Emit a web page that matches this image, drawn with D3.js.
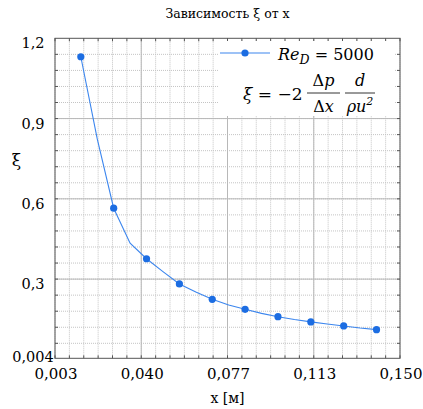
<!DOCTYPE html>
<html>
<head>
<meta charset="utf-8">
<script src="https://cdn.jsdelivr.net/npm/d3@7"></script>
<style>
  body { margin: 0; background: #fff; }
</style>
</head>
<body>
<div id="chart"></div>
<script>
// values
var xValues = [0.014, 0.021, 0.028, 0.035, 0.042, 0.049, 0.056, 0.063, 0.070, 0.077,
               0.084, 0.091, 0.098, 0.105, 0.112, 0.119, 0.126, 0.133, 0.140];
var xiValues = [1.131, 0.824, 0.565, 0.434, 0.376, 0.328, 0.282, 0.252, 0.2245, 0.203,
                0.187, 0.172, 0.1595, 0.149, 0.140, 0.132, 0.125, 0.117, 0.111];

var xTickValues = [0.003, 0.03975, 0.0765, 0.11325, 0.150];
var xTickLabels = ["0,003", "0,040", "0,077", "0,113", "0,150"];
var yTickValues = [0.004, 0.3, 0.6, 0.9, 1.2];
var yTickLabels = ["0,004", "0,3", "0,6", "0,9", "1,2"];

var title = "Зависимость ξ от x";
var xTitle = "x [м]";
var yTitle = "ξ";

var W = 423, H = 409;
var pLeft = 55, pRight = 400, pTop = 38.3, pBottom = 358.3;
var serif = "'DejaVu Serif', serif";

var x = d3.scaleLinear().domain([0.003, 0.150]).range([pLeft, pRight]);
var y = d3.scaleLinear().domain([0.004, 1.2]).range([pBottom, pTop]);

var svg = d3.select("#chart").append("svg")
    .attr("width", W)
    .attr("height", H)
    .attr("font-family", serif);

// minor grid
var xMinor = d3.range(0, 25).map(function (i) { return 0.003 + i * 0.006125; });
var yMinor = d3.range(1, 20).map(function (i) { return i * 0.06; });

svg.append("g").selectAll("line")
    .data(xMinor)
    .enter().append("line")
    .attr("x1", function (d) { return x(d); })
    .attr("x2", function (d) { return x(d); })
    .attr("y1", pTop).attr("y2", pBottom)
    .style("stroke", "#c4c4c4")
    .style("stroke-dasharray", "1,1");

svg.append("g").selectAll("line")
    .data(yMinor)
    .enter().append("line")
    .attr("y1", function (d) { return y(d); })
    .attr("y2", function (d) { return y(d); })
    .attr("x1", pLeft).attr("x2", pRight)
    .style("stroke", "#c4c4c4")
    .style("stroke-dasharray", "1,1");

// major grid
svg.append("g").selectAll("line")
    .data(xTickValues.slice(1, 4))
    .enter().append("line")
    .attr("x1", function (d) { return x(d); })
    .attr("x2", function (d) { return x(d); })
    .attr("y1", pTop).attr("y2", pBottom)
    .style("stroke", "#b8b8b8");

svg.append("g").selectAll("line")
    .data(yTickValues.slice(1, 4))
    .enter().append("line")
    .attr("y1", function (d) { return y(d); })
    .attr("y2", function (d) { return y(d); })
    .attr("x1", pLeft).attr("x2", pRight)
    .style("stroke", "#b8b8b8");

// small ticks on every side
var tickG = svg.append("g").style("stroke", "#555");
xMinor.forEach(function (d) {
    tickG.append("line").attr("x1", x(d)).attr("x2", x(d)).attr("y1", pBottom).attr("y2", pBottom - 3);
    tickG.append("line").attr("x1", x(d)).attr("x2", x(d)).attr("y1", pTop).attr("y2", pTop + 3);
});
yMinor.forEach(function (d) {
    tickG.append("line").attr("y1", y(d)).attr("y2", y(d)).attr("x1", pLeft).attr("x2", pLeft + 3);
    tickG.append("line").attr("y1", y(d)).attr("y2", y(d)).attr("x1", pRight).attr("x2", pRight - 3);
});

// frame
svg.append("rect")
    .attr("x", pLeft).attr("y", pTop)
    .attr("width", pRight - pLeft).attr("height", pBottom - pTop)
    .style("fill", "none")
    .style("stroke", "#555");

// tick labels
svg.append("g").selectAll("text")
    .data(xTickValues)
    .enter().append("text")
    .attr("x", function (d) { return x(d) + 1; })
    .attr("y", 379)
    .attr("text-anchor", "middle")
    .style("font-size", "15px")
    .text(function (d, i) { return xTickLabels[i]; });

svg.append("g").selectAll("text")
    .data(yTickValues)
    .enter().append("text")
    .attr("x", 33)
    .attr("y", function (d, i) { return y(d) + (i == 0 ? 4 : 10); })
    .attr("text-anchor", "middle")
    .style("font-size", "14.5px")
    .text(function (d, i) { return yTickLabels[i]; });

// titles
svg.append("text")
    .attr("x", (pLeft + pRight) / 2).attr("y", 18)
    .attr("text-anchor", "middle")
    .style("font-size", "12.5px")
    .text(title);

svg.append("text")
    .attr("x", (pLeft + pRight) / 2).attr("y", 403)
    .attr("text-anchor", "middle")
    .style("font-size", "14px")
    .text(xTitle);

svg.append("text")
    .attr("x", 16.5).attr("y", 166)
    .attr("text-anchor", "middle")
    .style("font-size", "17px")
    .text(yTitle);

// the curve
var line = d3.line()
    .x(function (d, i) { return x(xValues[i]); })
    .y(function (d) { return y(d); });

svg.append("path")
    .datum(xiValues)
    .attr("d", line)
    .style("fill", "none")
    .style("stroke", "#3c86ee")
    .style("stroke-width", 1.1);

// markers on every other point
svg.append("g").selectAll("circle")
    .data(xiValues.filter(function (d, i) { return i % 2 == 0; }))
    .enter().append("circle")
    .attr("cx", function (d, i) { return x(xValues[i * 2]); })
    .attr("cy", function (d) { return y(d); })
    .attr("r", 3.6)
    .style("fill", "#1c6de2");

// legend
var lg = svg.append("g");
lg.append("rect")
    .attr("x", 218).attr("y", 41)
    .attr("width", 176).attr("height", 75)
    .style("fill", "#fff");

lg.append("line")
    .attr("x1", 220).attr("x2", 270).attr("y1", 53).attr("y2", 53)
    .style("stroke", "#3c86ee").style("stroke-width", 1.1);
lg.append("circle")
    .attr("cx", 245).attr("cy", 53).attr("r", 3.6)
    .style("fill", "#1c6de2");

var re = lg.append("text").attr("x", 278).attr("y", 60).style("font-size", "16px");
re.append("tspan").style("font-style", "italic").text("Re");
re.append("tspan").style("font-style", "italic").style("font-size", "12.5px").attr("dy", 4).text("D");
re.append("tspan").attr("dy", -4).text(" = 5000");

lg.append("text")
    .attr("x", 243).attr("y", 100)
    .style("font-size", "17px")
    .html('<tspan font-style="italic">ξ</tspan> = −2');

// fractions
lg.append("line").attr("x1", 307).attr("x2", 340).attr("y1", 93).attr("y2", 93)
    .style("stroke", "#000").style("stroke-width", 0.8);
lg.append("text").attr("x", 323.5).attr("y", 86).attr("text-anchor", "middle")
    .style("font-size", "16px")
    .html('Δ<tspan font-style="italic">p</tspan>');
lg.append("text").attr("x", 323.5).attr("y", 112).attr("text-anchor", "middle")
    .style("font-size", "16px")
    .html('Δ<tspan font-style="italic">x</tspan>');

lg.append("line").attr("x1", 345).attr("x2", 375).attr("y1", 93).attr("y2", 93)
    .style("stroke", "#000").style("stroke-width", 0.8);
lg.append("text").attr("x", 360).attr("y", 86).attr("text-anchor", "middle")
    .style("font-size", "16px").style("font-style", "italic")
    .text("d");
lg.append("text").attr("x", 360).attr("y", 112).attr("text-anchor", "middle")
    .style("font-size", "16px").style("font-style", "italic")
    .html('ρu<tspan font-size="11px" dy="-7">2</tspan>');
</script>
</body>
</html>
